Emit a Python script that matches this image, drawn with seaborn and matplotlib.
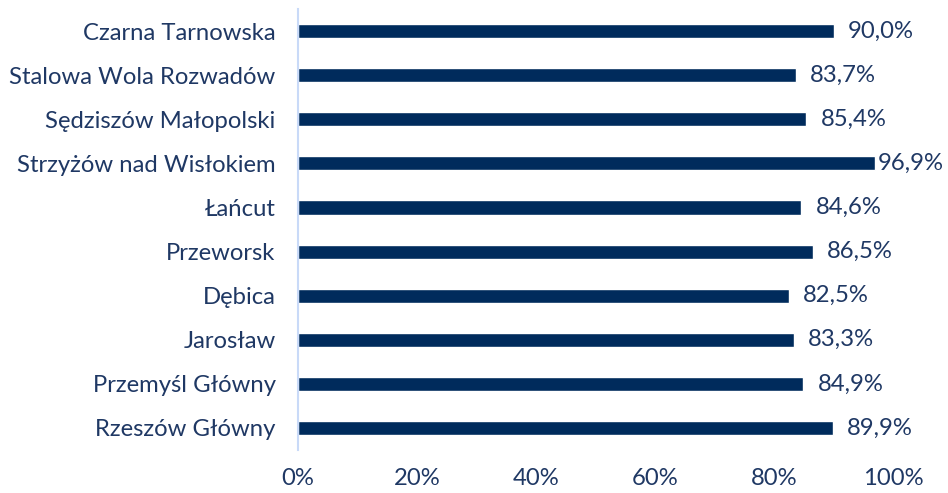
import pandas as pd
import matplotlib.pyplot as plt
import seaborn as sns

stations = ["Czarna Tarnowska", "Stalowa Wola Rozwadów", "Sędziszów Małopolski",
            "Strzyżów nad Wisłokiem", "Łańcut", "Przeworsk", "Dębica",
            "Jarosław", "Przemyśl Główny", "Rzeszów Główny"]
shares = [90.0, 83.7, 85.4, 96.9, 84.6, 86.5, 82.5, 83.3, 84.9, 89.9]
ticks = [0, 20, 40, 60, 80, 100]

df = pd.DataFrame({"station": stations, "share": shares})

sns.set_theme(style="white")
plt.rcParams["font.family"] = ["Lato", "DejaVu Sans"]
text_color = "#1f3864"
bar_color = "#002b5c"
fs = 17.2

fig = plt.figure(figsize=(9.48, 4.93), dpi=100)
ax = fig.add_axes([0.3143, 0.0872, 0.6277, 0.8945])

sns.barplot(data=df, y="station", x="share", orient="h", color=bar_color,
            width=0.32, saturation=1, ax=ax)

# value labels; the longest bar's label is pulled in so it stays inside the figure
for i, v in enumerate(shares):
    ax.text(min(v + 2.4, 97.5), i, f"{v:.1f}%".replace(".", ","), va="center",
            ha="left", fontsize=fs, color=text_color)

ax.set_xlim(0, 100)
ax.set_ylim(len(stations) - 0.5, -0.5)
ax.set_xticks(ticks)
ax.set_xticklabels([f"{t}%" for t in ticks])
ax.set_xlabel("")
ax.set_ylabel("")
ax.tick_params(axis="both", length=0, labelsize=fs, colors=text_color)
ax.tick_params(axis="x", pad=13)
ax.tick_params(axis="y", pad=16)
for s in ["top", "right", "bottom"]:
    ax.spines[s].set_visible(False)
ax.spines["left"].set_color("#c9daf8")
ax.spines["left"].set_linewidth(1.5)

fig.savefig("out.png", dpi=100)
